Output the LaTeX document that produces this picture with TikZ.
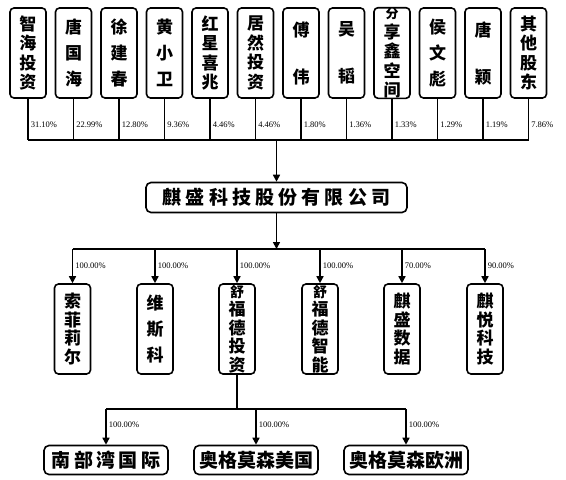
\documentclass[tikz,border=0pt]{standalone}
\usepackage{fontspec}
\usetikzlibrary{arrows.meta}
\newfontfamily\cjk{Noto Sans CJK SC}
\newfontfamily\pctfont{Liberation Serif}
\newcommand\tightlines{\lineskiplimit=-100pt\relax}

\begin{document}
\begin{tikzpicture}[x=1pt, y=-1pt,
		line width=1.6pt,
		holder/.style={draw, rounded corners=4pt, minimum width=36pt, minimum height=90pt, inner sep=0pt, align=center, font=\cjk\bfseries\fontsize{17}{19.5}\selectfont\tightlines},
		subsid/.style={holder, font=\cjk\bfseries\fontsize{17}{18.5}\selectfont\tightlines},
		company/.style={draw, rounded corners=5pt, minimum height=30pt, inner sep=0pt, font=\cjk\bfseries\fontsize{19}{22}\selectfont},
		share/.style={anchor=west, inner sep=0pt, font=\pctfont\fontsize{8.5}{9}\selectfont},
		tip/.style={-{Triangle[length=7pt,width=7pt]}}]
	\useasboundingbox (0,0) rectangle (566,480);

	% shareholders
	\foreach \t/\p [count=\i from 0] in {
			{智\\海\\投\\资}/31.10, {唐\\[6.5pt]国\\[6.5pt]海}/22.99, {徐\\[6.5pt]建\\[6.5pt]春}/12.80,
			{黄\\[6.5pt]小\\[6.5pt]卫}/9.36, {红\\星\\喜\\兆}/4.46, {居\\然\\投\\资}/4.46,
			{傅\\[27.5pt]伟}/1.80, {吴\\[27.5pt]韬}/1.36,
			{\fontsize{13}{15.5}\selectfont 分\\享\\鑫\\空\\间}/1.33,
			{侯\\[6.5pt]文\\[6.5pt]彪}/1.29, {唐\\[27.5pt]颖}/1.19, {其\\他\\股\\东}/7.86}{
		\node[holder] (sh\i) at (28+45.5*\i,53) {\t};
		\draw (sh\i.south) -- ++(0,41) coordinate (sb\i);
		\node[share] at ([xshift=2pt]sb\i |- 0,125) {\p\%};
	}
	\draw (sb0) -- (sb11);
	\coordinate (topbus) at (276.5,139);

	\node[company, minimum width=261pt] (qs) at (276.5,197.5) {\addfontfeature{LetterSpace=22}麒盛科技股份有限公司};
	\draw[tip] (topbus) -- (qs.north);

	% subsidiaries
	\coordinate (midbus) at (276.5,249);
	\draw[tip] (qs.south) -- (midbus);
	\foreach \t/\p/\x [count=\i] in {
			{索\\菲\\莉\\尔}/100.00/72.5, {维\\[7.5pt]斯\\[7.5pt]科}/100.00/155,
			{\fontsize{14}{15.2}\selectfont 舒\\福\\德\\投\\资}/100.00/237,
			{\fontsize{14}{15.2}\selectfont 舒\\福\\德\\智\\能}/100.00/320,
			{麒\\盛\\数\\据}/70.00/402, {麒\\悦\\科\\技}/90.00/485}{
		\node[subsid] (sub\i) at (\x,329) {\t};
		\draw[tip] (sub\i.north |- midbus) -- (sub\i.north);
		\node[share] at ([xshift=2pt]sub\i.north |- 0,266) {\p\%};
	}
	\draw (sub1.north |- midbus) -- (sub6.north |- midbus);

	% third level
	\coordinate (lowbus) at (237,409);
	\draw (sub3.south) -- (lowbus);
	\node[company, minimum width=124pt, minimum height=29pt] (nbw) at (106,460) {\addfontfeature{LetterSpace=18}南部湾国际};
	\node[company, minimum width=124pt, minimum height=29pt] (agus) at (256,460) {奥格莫森美国};
	\node[company, minimum width=124pt, minimum height=29pt] (ageu) at (406,460) {奥格莫森欧洲};
	\draw (nbw.north |- lowbus) -- (ageu.north |- lowbus);
	\foreach \c in {nbw, agus, ageu}{
		\draw[tip] (\c.north |- lowbus) -- (\c.north);
		\node[share] at ([xshift=2pt]\c.north |- 0,425) {100.00\%};
	}
\end{tikzpicture}
\end{document}
